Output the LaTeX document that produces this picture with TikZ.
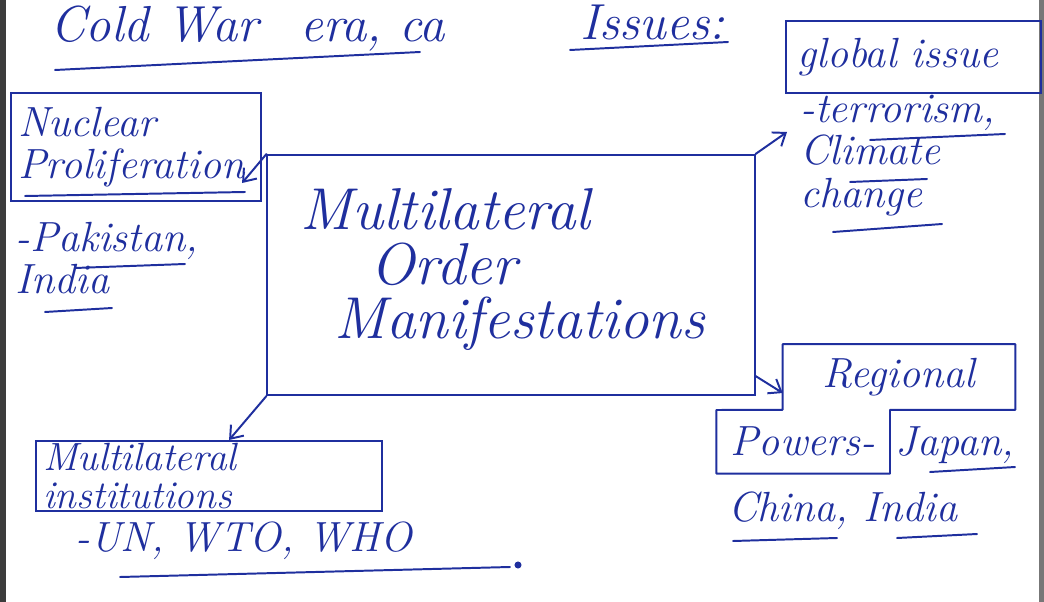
\documentclass[tikz,border=0pt]{standalone}
\usepackage{tikz}
\usetikzlibrary{arrows.meta,positioning,calc}
\definecolor{inkblue}{HTML}{1F2F9E}
\definecolor{scanedge}{HTML}{3C3C3C}
\tikzset{
  inkline/.style   = {draw=inkblue, line width=1.4pt, line cap=round, line join=round},
  inkarrow/.style  = {inkline, -{Straight Barb[length=8pt, width=12pt, line width=1.4pt]}},
  titletext/.style = {text=inkblue, font=\fontsize{36}{36}\selectfont\itshape, inner sep=0pt},
  mainbox/.style   = {draw=inkblue, line width=1.4pt, minimum width=12.175cm, minimum height=6cm},
  maintext/.style  = {text=inkblue, font=\fontsize{42}{39}\selectfont\itshape, align=left, inner sep=0pt},
  notetext/.style  = {text=inkblue, font=\fontsize{30}{30}\selectfont\itshape, align=left, inner sep=0pt},
  notebox/.style   = {notetext, draw=inkblue, line width=1.4pt, inner xsep=5pt, inner ysep=4pt},
}

\begin{document}
\begin{tikzpicture}[x=0.025cm, y=-0.025cm]
\useasboundingbox (0,0) rectangle (1044,602);
\fill[scanedge] (0,0) rectangle (6,602);
\fill[scanedge!70] (1039,0) rectangle (1044,602);

% heading
\node[titletext, anchor=base west] (cold) at (50,42) {Cold War};
\node[titletext, anchor=base west] (era) at (300,42) {era, ca};
\node[titletext, anchor=base west] (issues) at (580,40) {Issues:};
\draw[inkline] (55,70) -- (420,52);
\draw[inkline] (570,50) -- (728,42);

% centre
\node[mainbox] (main) at (511,275) {};
\node[maintext, anchor=north west] (mtxt) at (300,188) {Multilateral\\\hspace*{1.75cm}Order\\\hspace*{0.85cm}Manifestations};

% nuclear
\node[notebox, anchor=north west, text width=5.9cm, minimum height=2.7cm] (nuc) at (10,92) {Nuclear\\Proliferation};
\node[notetext, anchor=north west] (pak) at (15,222) {-Pakistan,\\India};
\draw[inkline] (25,196) -- (245,192);
\draw[inkline] (75,268) -- (185,264);
\draw[inkline] (45,312) -- (112,308);

% global issues
\node[notebox, anchor=north west, minimum width=6.375cm, minimum height=1.8cm, text width=5.8cm] (glob) at (785,20) {global issue};
\node[notetext, anchor=north west] (gnote) at (800,95) {-terrorism,\\Climate\\change};
\coordinate (gtip) at (787,132);
\draw[inkline] (870,140) -- (1005,134);
\draw[inkline] (850,182) -- (927,179);
\draw[inkline] (833,232) -- (942,224);

% regional powers
\node[notetext, minimum width=5.8cm, minimum height=1.625cm] (reg) at (899,377) {Regional};
\node[notetext, minimum width=4.325cm, minimum height=1.575cm, anchor=north east] (pow) at (890,410) {Powers-};
\draw[inkline] (reg.north west) -- (reg.north east) -- (reg.south east) -- (reg.south -| pow.east)
  -- (pow.south east) -- (pow.south west) -- (pow.north west) -- (reg.south west) -- cycle;
\node[notetext, anchor=base west] (japan) at ([xshift=4pt]pow.base east) {Japan,};
\node[notetext, anchor=north west] (china) at (728,492) {China, India};
\draw[inkline] (930,472) -- (1015,467);
\draw[inkline] (733,541) -- (837,538);
\draw[inkline] (897,538) -- (977,534);

% institutions
\node[notebox, anchor=north west, text width=8.3cm, minimum height=1.75cm, inner ysep=1pt,
      font=\fontsize{28}{27}\selectfont\itshape] (inst) at (35,440) {Multilateral\\institutions};
\node[notetext, anchor=north west] (un) at (75,522) {-UN, WTO, WHO};
\draw[inkline] (120,577) -- (510,567);
\fill[inkblue] (518,565) circle (2.5pt);

% arrows
\draw[inkarrow] (main.north west) -- ([xshift=-0.5cm,yshift=-0.9cm]nuc.east);
\draw[inkarrow] (main.north east) -- (gtip);
\draw[inkarrow] ([yshift=0.5cm]main.south east) -- ([yshift=-0.4cm]reg.west);
\draw[inkarrow] (main.south west) -- ([xshift=0.5cm]inst.north);
\end{tikzpicture}
\end{document}
